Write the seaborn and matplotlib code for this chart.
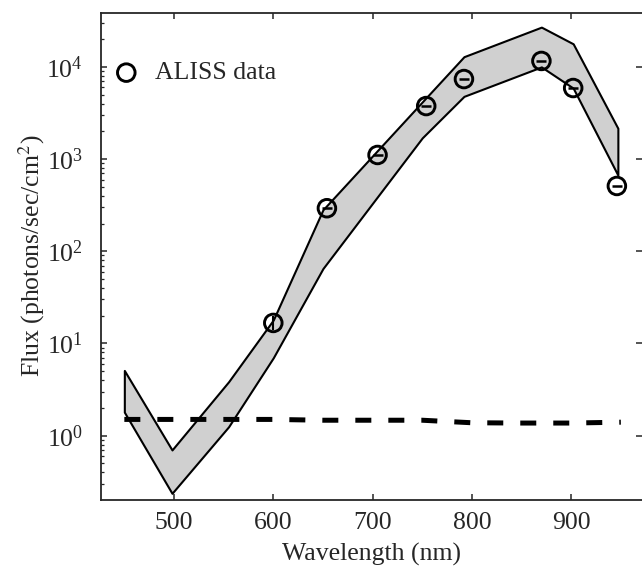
import numpy as np
import pandas as pd
import seaborn as sns
import matplotlib.pyplot as plt
from matplotlib.ticker import LogLocator, NullFormatter

# ALISS measured points
aliss_wl = [600, 654, 705, 754, 792, 870, 902, 946]
aliss_flux = [16.7, 293, 1108, 3760, 7380, 11600, 5900, 511]

# model band (upper / lower envelope)
band_wl = [450, 498, 555, 600, 650, 750, 792, 870, 902, 947]
band_upper = [5.1, 0.70, 3.85, 18, 282, 4170, 12900, 27000, 17800, 2160]
band_lower = [1.8, 0.237, 1.25, 7.0, 65, 1700, 4790, 10000, 5890, 670]

# background level (dashed)
bg_wl = [450, 500, 550, 600, 650, 700, 750, 800, 850, 900, 950]
bg_flux = [1.5, 1.5, 1.5, 1.5, 1.47, 1.47, 1.47, 1.38, 1.37, 1.37, 1.4]

df = pd.DataFrame({'wl': aliss_wl, 'flux': aliss_flux})

sns.set_style('ticks')
plt.rcParams['font.family'] = ['Liberation Serif', 'DejaVu Serif']
plt.rcParams['mathtext.fontset'] = 'stix'

fig = plt.figure(figsize=(6.42, 5.68), dpi=100)
ax = fig.add_axes([101 / 642, 1 - 499.5 / 568, 541 / 642, 487 / 568])

ax.fill_between(band_wl, band_lower, band_upper, facecolor='#d0d0d0',
                edgecolor='black', linewidth=1.5, zorder=1)

sns.lineplot(x=bg_wl, y=bg_flux, ax=ax, color='black', linewidth=3.6,
             linestyle=(0, (3.2, 3.4)), zorder=2)

sns.scatterplot(data=df, x='wl', y='flux', ax=ax, marker='o', s=160,
                facecolors='none', edgecolor='black', linewidth=2.1,
                label='ALISS data', zorder=4)
# small error bars inside the circles
ax.scatter(aliss_wl[1:], aliss_flux[1:], marker='_', s=60, color='black',
           linewidth=1.8, zorder=5)
ax.scatter(aliss_wl[:1], aliss_flux[:1], marker='|', s=110, color='black',
           linewidth=1.5, zorder=5)

ax.set_yscale('log')
ax.set_xlim(426.5, 971.3)
ax.set_ylim(0.203, 38900)
ax.set_xticks([500, 600, 700, 800, 900])
ax.yaxis.set_major_locator(LogLocator(base=10, numticks=10))
ax.yaxis.set_minor_locator(LogLocator(base=10, subs=np.arange(2, 10), numticks=20))
ax.yaxis.set_minor_formatter(NullFormatter())

ax.spines['right'].set_visible(False)
for s in ['left', 'bottom', 'top']:
    ax.spines[s].set_linewidth(1.3)

ax.tick_params(axis='both', which='major', direction='in', length=4, width=1.1,
               labelsize=18.5, top=True, right=True)
ax.tick_params(axis='x', which='major', pad=9)
ax.tick_params(axis='y', which='major', pad=13)
ax.tick_params(axis='y', which='minor', direction='in', length=2.5, width=0.9,
               left=True, right=False)

ax.set_xlabel('Wavelength (nm)', fontsize=18.5)
ax.set_ylabel('Flux (photons/sec/cm$^2$)', fontsize=18.5)
ax.xaxis.set_label_coords(0.5, -0.09)
ax.yaxis.set_label_coords(-0.1, 0.5)

ax.legend(loc='center left', bbox_to_anchor=(0.023, 0.876), frameon=False,
          borderpad=0, borderaxespad=0, handlelength=1.0, handletextpad=0.6,
          fontsize=18.5, scatterpoints=1)

fig.savefig('out.png', dpi=100)
